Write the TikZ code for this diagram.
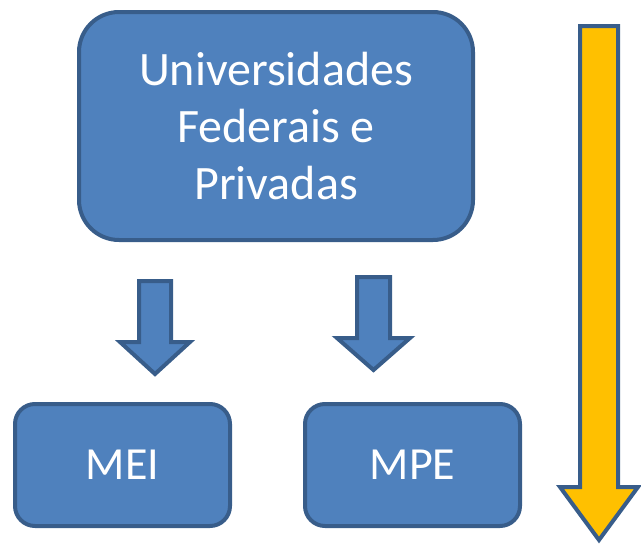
\documentclass[tikz,border=0pt]{standalone}
\usepackage{fontspec}
\setmainfont{Carlito}
\usepackage{tikz}
\usetikzlibrary{positioning}
\definecolor{boxblue}{HTML}{4F81BD}
\definecolor{boxline}{HTML}{385D8A}
\definecolor{gold}{HTML}{FFC000}
\tikzset{
  box/.style={draw=boxline, fill=boxblue, line width=4pt, text=white, align=center,
    font=\fontsize{46}{57}\selectfont},
  blockarrow/.style={draw=boxline, line width=4pt, line join=miter}
}
\begin{document}
\begin{tikzpicture}[x=1pt,y=-1pt]
\useasboundingbox (0,0) rectangle (641,546);
\node[box, minimum width=394pt, minimum height=228pt, rounded corners=40pt, font=\fontsize{48}{57}\selectfont] (uni) at (276,126) {Universidades\\Federais e\\Privadas};
\node[box, minimum width=215pt, minimum height=122pt, rounded corners=20pt] (mei) at (122.5,465) {MEI};
\node[box, minimum width=215pt, minimum height=122pt, rounded corners=20pt] (mpe) at (412.5,465) {MPE};
% down arrows
\draw[blockarrow, fill=boxblue] (139,281) -- (171,281) -- (171,342) -- (190,342) -- (155,374) -- (120,342) -- (139,342) -- cycle;
\draw[blockarrow, fill=boxblue] (357,277) -- (390,277) -- (390,338) -- (410,338) -- (373.5,370) -- (337,338) -- (357,338) -- cycle;
\draw[blockarrow, fill=gold] (580,26) -- (618,26) -- (618,487) -- (638,487) -- (599,540) -- (560,487) -- (580,487) -- cycle;
\end{tikzpicture}
\end{document}
